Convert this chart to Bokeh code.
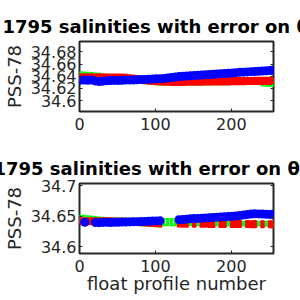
from bokeh.plotting import figure
from bokeh.models import LinearAxis, FixedTicker, Range1d, ColumnDataSource, Title, Spacer
from bokeh.layouts import column
from bokeh.embed import file_html
from bokeh.resources import INLINE

# ---------------- data ----------------
profiles = [1, 6, 11, 16, 21, 26, 31, 36, 41, 46, 51, 56, 61, 66, 71, 76, 81, 86, 91, 96,
            101, 106, 111, 116, 121, 126, 131, 136, 141, 146, 151, 156, 161, 166, 171, 176,
            181, 186, 191, 196, 201, 206, 211, 216, 221, 226, 231, 236, 241, 246, 251, 254]

xticks = [0, 100, 200]
top_yticks = [34.6, 34.62, 34.64, 34.66, 34.68]
top_ylabels = ["34.6", "34.62", "34.64", "34.66", "34.68"]
bot_yticks = [34.6, 34.65, 34.7]
bot_ylabels = ["34.6", "34.65", "34.7"]

title_text = "1795 salinities with error on θ"
ylabel_text = "PSS-78"
xlabel_text = "float profile number"

# top panel
top_blue = [34.6335, 34.6338, 34.6334, 34.6336, 34.6322, 34.6312, 34.6318, 34.6325, 34.6328, 34.6331,
            34.6330, 34.6334, 34.6336, 34.6338, 34.6337, 34.6341, 34.6344, 34.6346, 34.6349, 34.6352,
            34.6356, 34.6360, 34.6364, 34.6370, 34.6378, 34.6386, 34.6393, 34.6398, 34.6402, 34.6407,
            34.6412, 34.6415, 34.6419, 34.6424, 34.6428, 34.6431, 34.6436, 34.6440, 34.6443, 34.6447,
            34.6452, 34.6458, 34.6463, 34.6466, 34.6470, 34.6474, 34.6478, 34.6481, 34.6484, 34.6488,
            34.6493, 34.6496]
top_red = [34.6380, 34.6382, 34.6380, 34.6381, 34.6379, 34.6380, 34.6378, 34.6379, 34.6377, 34.6378,
           34.6376, 34.6375, 34.6372, 34.6366, 34.6359, 34.6351, 34.6343, 34.6335, 34.6328, 34.6322,
           34.6317, 34.6313, 34.6310, 34.6309, 34.6308, 34.6307, 34.6307, 34.6308, 34.6309, 34.6310,
           34.6310, 34.6311, 34.6312, 34.6313, 34.6313, 34.6314, 34.6315, 34.6316, 34.6316, 34.6317,
           34.6318, 34.6319, 34.6319, 34.6320, 34.6321, 34.6321, 34.6322, 34.6322, 34.6323, 34.6323,
           34.6324, 34.6331]
top_red_err = [0.0055, 0.0056, 0.0055, 0.0055, 0.0054, 0.0055, 0.0056, 0.0055, 0.0055, 0.0054,
               0.0055, 0.0055, 0.0056, 0.0055, 0.0055, 0.0054, 0.0055, 0.0055, 0.0056, 0.0055,
               0.0055, 0.0054, 0.0055, 0.0055, 0.0055, 0.0056, 0.0055, 0.0055, 0.0054, 0.0055,
               0.0055, 0.0055, 0.0056, 0.0055, 0.0055, 0.0054, 0.0055, 0.0055, 0.0055, 0.0056,
               0.0055, 0.0055, 0.0054, 0.0055, 0.0055, 0.0055, 0.0056, 0.0055, 0.0055, 0.0054,
               0.0055, 0.0045]
top_green = [34.6404, 34.6401, 34.6397, 34.6393, 34.6389, 34.6385, 34.6380, 34.6376, 34.6375, 34.6374,
             34.6373, 34.6372, 34.6369, 34.6363, 34.6356, 34.6348, 34.6340, 34.6332, 34.6326, 34.6320,
             34.6315, 34.6311, 34.6308, 34.6307, 34.6306, 34.6305, 34.6305, 34.6306, 34.6307, 34.6308,
             34.6308, 34.6309, 34.6310, 34.6311, 34.6311, 34.6312, 34.6313, 34.6314, 34.6314, 34.6315,
             34.6316, 34.6317, 34.6317, 34.6318, 34.6319, 34.6319, 34.6320, 34.6320, 34.6300, 34.6298,
             34.6297, 34.6296]
top_green_err = [0.0064, 0.0064, 0.0063, 0.0062, 0.0061, 0.0060, 0.0057, 0.0050, 0.0050, 0.0050,
                 0.0050, 0.0050, 0.0050, 0.0050, 0.0050, 0.0050, 0.0050, 0.0050, 0.0050, 0.0050,
                 0.0050, 0.0050, 0.0050, 0.0050, 0.0050, 0.0050, 0.0050, 0.0050, 0.0050, 0.0050,
                 0.0050, 0.0050, 0.0050, 0.0050, 0.0050, 0.0050, 0.0050, 0.0050, 0.0050, 0.0050,
                 0.0050, 0.0050, 0.0050, 0.0050, 0.0050, 0.0050, 0.0050, 0.0050, 0.0058, 0.0058,
                 0.0058, 0.0058]

# bottom panel
bot_blue_x = [7, 21, 26, 31, 36, 41, 46, 51, 56, 61, 66, 71, 76, 81, 86, 91, 96, 101, 106,
              131, 136, 141, 146, 151, 156, 161, 166, 171, 176, 181, 186, 191, 196, 201, 206,
              211, 216, 221, 226, 231, 236, 241, 246, 251, 254]
bot_blue = [34.6403, 34.6400, 34.6397, 34.6401, 34.6404, 34.6400, 34.6402, 34.6404, 34.6406, 34.6407,
            34.6409, 34.6411, 34.6413, 34.6415, 34.6417, 34.6419, 34.6422, 34.6425, 34.6428,
            34.6444, 34.6449, 34.6454, 34.6459, 34.6464, 34.6467, 34.6471, 34.6475, 34.6479, 34.6483,
            34.6487, 34.6490, 34.6494, 34.6498, 34.6501, 34.6507, 34.6514, 34.6521, 34.6529, 34.6537,
            34.6541, 34.6540, 34.6537, 34.6534, 34.6532, 34.6533]
bot_red_x = [1, 6, 11, 16, 21, 26, 31, 36, 41, 46, 51, 56, 61, 66, 71, 76, 81, 86, 91, 96, 101, 106,
             131, 136, 141, 151, 161, 166, 171, 176, 186, 191, 201, 206, 211, 221, 226, 231, 241,
             251, 254]
bot_red = [34.6421, 34.6422, 34.6421, 34.6420, 34.6421, 34.6420, 34.6419, 34.6419, 34.6418, 34.6418,
           34.6417, 34.6416, 34.6415, 34.6414, 34.6412, 34.6408, 34.6403, 34.6398, 34.6393, 34.6389,
           34.6386, 34.6384,
           34.6381, 34.6380, 34.6379, 34.6378, 34.6377, 34.6377, 34.6376, 34.6376, 34.6375, 34.6375,
           34.6374, 34.6374, 34.6373, 34.6373, 34.6372, 34.6372, 34.6372, 34.6371, 34.6371]
bot_red_err = [0.0053, 0.0053, 0.0054, 0.0053, 0.0053, 0.0052, 0.0053, 0.0053, 0.0054, 0.0053,
               0.0053, 0.0053, 0.0052, 0.0053, 0.0053, 0.0054, 0.0053, 0.0053, 0.0053, 0.0052,
               0.0053, 0.0053,
               0.0053, 0.0054, 0.0053, 0.0053, 0.0052, 0.0053, 0.0053, 0.0053, 0.0054, 0.0053,
               0.0053, 0.0052, 0.0053, 0.0053, 0.0053, 0.0054, 0.0053, 0.0053, 0.0053]
bot_green = [34.6456, 34.6453, 34.6448, 34.6442, 34.6436, 34.6430, 34.6425, 34.6420, 34.6418, 34.6417,
             34.6416, 34.6415, 34.6414, 34.6413, 34.6411, 34.6407, 34.6402, 34.6397, 34.6392, 34.6388,
             34.6386, 34.6384, 34.6404, 34.6404, 34.6404, 34.6404, 34.6386, 34.6386, 34.6385, 34.6385,
             34.6385, 34.6384, 34.6384, 34.6384, 34.6383, 34.6383, 34.6383, 34.6382, 34.6382, 34.6382,
             34.6382, 34.6381, 34.6381, 34.6381, 34.6380, 34.6380, 34.6380, 34.6380, 34.6379, 34.6379,
             34.6379, 34.6379]
bot_green_err = [0.0060, 0.0060, 0.0059, 0.0058, 0.0057, 0.0056, 0.0055, 0.0052, 0.0052, 0.0052,
                 0.0052, 0.0052, 0.0052, 0.0052, 0.0052, 0.0052, 0.0052, 0.0052, 0.0052, 0.0052,
                 0.0052, 0.0052, 0.0056, 0.0056, 0.0056, 0.0056, 0.0036, 0.0036, 0.0036, 0.0036,
                 0.0036, 0.0036, 0.0036, 0.0036, 0.0036, 0.0036, 0.0036, 0.0036, 0.0036, 0.0036,
                 0.0036, 0.0036, 0.0036, 0.0036, 0.0036, 0.0036, 0.0036, 0.0036, 0.0036, 0.0036,
                 0.0036, 0.0036]

TXT = "#262626"
BLUE, RED, GREEN = "#0000ff", "#ff0000", "#00ff00"


def errorbars(p, xs, ys, errs, color, width):
    src = ColumnDataSource(dict(
        x=xs,
        lo=[y - e for y, e in zip(ys, errs)],
        hi=[y + e for y, e in zip(ys, errs)],
        xl=[x - 2.5 for x in xs],
        xr=[x + 2.5 for x in xs],
    ))
    p.segment(x0="x", y0="lo", x1="x", y1="hi", source=src, line_color=color, line_width=width)
    p.segment(x0="xl", y0="lo", x1="xr", y1="lo", source=src, line_color=color, line_width=1.5)
    p.segment(x0="xl", y0="hi", x1="xr", y1="hi", source=src, line_color=color, line_width=1.5)


def make_fig(height, ylim, yticks, ylabels, bb, title_x, with_xlabel):
    p = figure(width=300, height=height, x_range=Range1d(0, 255.5), y_range=Range1d(*ylim),
               output_backend="svg", toolbar_location=None,
               min_border_left=76, min_border_right=27, min_border_top=33, min_border_bottom=bb,
               outline_line_color=TXT, outline_line_width=2, outline_line_alpha=1.0,
               background_fill_color="white", border_fill_color="white")
    p.grid.visible = False
    xa = p.xaxis[0]
    ya = p.yaxis[0]
    xa.ticker = FixedTicker(ticks=xticks)
    ya.ticker = FixedTicker(ticks=yticks)
    ya.major_label_overrides = {t: s for t, s in zip(yticks, ylabels)}
    right = LinearAxis(ticker=FixedTicker(ticks=yticks),
                       major_label_overrides={t: "" for t in yticks})
    p.add_layout(right, "right")
    for ax in [xa, ya, right]:
        ax.axis_line_color = None
        ax.major_tick_in = 3
        ax.major_tick_out = 0
        ax.major_tick_line_color = TXT
        ax.minor_tick_line_color = None
        ax.major_label_text_font = "DejaVu Sans"
        ax.major_label_text_font_size = "16px"
        ax.major_label_text_color = TXT
    xa.major_label_standoff = 6
    ya.major_label_standoff = 3
    right.major_label_standoff = 0

    ya.axis_label = ylabel_text
    ya.axis_label_text_font = "DejaVu Sans"
    ya.axis_label_text_font_size = "18px"
    ya.axis_label_text_font_style = "normal"
    ya.axis_label_text_color = TXT
    ya.axis_label_standoff = 3
    if with_xlabel:
        xa.axis_label = xlabel_text
        xa.axis_label_text_font = "DejaVu Sans"
        xa.axis_label_text_font_size = "18px"
        xa.axis_label_text_font_style = "normal"
        xa.axis_label_text_color = TXT
        xa.axis_label_standoff = -2

    p.add_layout(Title(text=title_text, align="left", offset=title_x,
                       text_font="DejaVu Sans", text_font_style="bold",
                       text_font_size="18px", text_color="black", standoff=10), "above")
    return p


# ---------------- top panel ----------------
p1 = make_fig(142, (34.582, 34.697), top_yticks, top_ylabels, 39, -77, False)
errorbars(p1, profiles, top_green, top_green_err, GREEN, 3)
errorbars(p1, profiles, top_red, top_red_err, RED, 4.5)
p1.scatter(profiles, top_blue, size=9, fill_color=BLUE, line_color=None)

# ---------------- bottom panel ----------------
p2 = make_fig(150, (34.589, 34.704), bot_yticks, bot_ylabels, 47, -86, True)
errorbars(p2, profiles, bot_green, bot_green_err, GREEN, 3)
errorbars(p2, bot_red_x, bot_red, bot_red_err, RED, 4.5)
p2.scatter(bot_blue_x, bot_blue, size=9, fill_color=BLUE, line_color=None)

layout = column(Spacer(width=300, height=8), p1, p2)
open("out.html", "w").write(file_html(layout, INLINE))
